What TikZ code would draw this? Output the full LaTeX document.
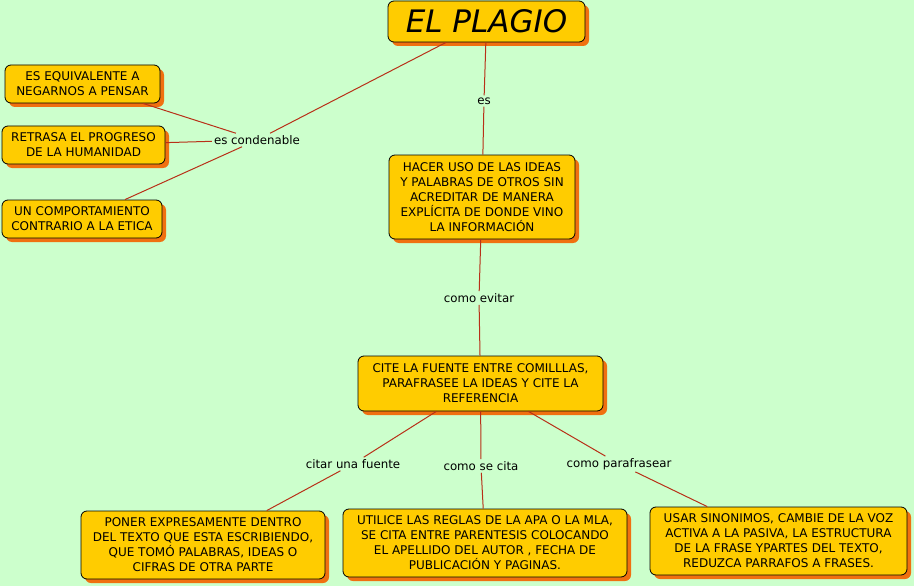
\documentclass[tikz,border=0pt]{standalone}
\usepackage{fontspec}
\setmainfont{DejaVu Sans}
\usetikzlibrary{shadows}
\definecolor{mapbg}{RGB}{204,255,204}
\definecolor{boxfill}{RGB}{255,204,0}
\definecolor{boxshadow}{RGB}{240,112,16}
\definecolor{linkred}{RGB}{184,48,24}
\begin{document}
\begin{tikzpicture}[x=1pt, y=-1pt,
	concept/.style={draw=black, line width=0.8pt, fill=boxfill, rounded corners=6pt,
		align=center, inner sep=0pt, font=\fontsize{12}{15}\selectfont,
		general shadow={fill=boxshadow, shadow xshift=4pt, shadow yshift=-4pt}},
	phrase/.style={inner sep=2pt, font=\fontsize{11.8}{14}\selectfont},
	link/.style={draw=linkred, line width=1pt}]
	\useasboundingbox[fill=mapbg] (0,0) rectangle (914,586);

	\node[concept, minimum width=197pt, minimum height=41pt, font=\fontsize{31}{36}\itshape] at (486.5,21.5)(title){EL PLAGIO};

	\node[concept, minimum width=155pt, minimum height=38pt] at (82.5,84)(eq){ES EQUIVALENTE A\\NEGARNOS A PENSAR};
	\node[concept, minimum width=163pt, minimum height=38pt] at (83.5,145)(ret){RETRASA EL PROGRESO\\DE LA HUMANIDAD};
	\node[concept, minimum width=160pt, minimum height=38pt] at (82,219)(comp){UN COMPORTAMIENTO\\CONTRARIO A LA ETICA};
	\node[phrase] at (257,140)(cond){es condenable};

	\node[phrase] at (484,101)(es){es};
	\node[concept, minimum width=186pt, minimum height=84pt] at (482,197)(hacer){HACER USO DE LAS IDEAS\\Y PALABRAS DE OTROS SIN\\ACREDITAR DE MANERA\\EXPLÍCITA DE DONDE VINO\\LA INFORMACIÓN};

	\node[phrase] at (479,298)(evitar){como evitar};
	\node[concept, minimum width=245pt, minimum height=55pt] at (480.5,383.5)(cite){CITE LA FUENTE ENTRE COMILLLAS,\\PARAFRASEE LA IDEAS Y CITE LA\\REFERENCIA};

	\node[phrase] at (353,464)(citar){citar una fuente};
	\node[phrase] at (481,466)(secita){como se cita};
	\node[phrase] at (619,464)(paraf){como parafrasear};

	\node[concept, minimum width=244pt, minimum height=68pt] at (203,545)(poner){PONER EXPRESAMENTE DENTRO\\DEL TEXTO QUE ESTA ESCRIBIENDO,\\QUE TOMÓ PALABRAS, IDEAS O\\CIFRAS DE OTRA PARTE};
	\node[concept, minimum width=284pt, minimum height=68pt] at (485,543)(utilice){UTILICE LAS REGLAS DE LA APA O LA MLA,\\SE CITA ENTRE PARENTESIS COLOCANDO\\EL APELLIDO DEL AUTOR , FECHA DE\\PUBLICACIÓN Y PAGINAS.};
	\node[concept, minimum width=257pt, minimum height=68pt] at (778.5,541)(usar){USAR SINONIMOS, CAMBIE DE LA VOZ\\ACTIVA A LA PASIVA, LA ESTRUCTURA\\DE LA FRASE YPARTES DEL TEXTO,\\REDUZCA PARRAFOS A FRASES.};

	\path[link] (title) edge (cond) (cond) edge (eq) (cond) edge (ret) (cond) edge (comp)
		(title) edge (es) (es) edge (hacer)
		(hacer) edge (evitar) (evitar) edge (cite)
		(cite) edge (citar) (citar) edge (poner)
		(cite) edge (secita) (secita) edge (utilice)
		(cite) edge (paraf) (paraf) edge (usar);
\end{tikzpicture}
\end{document}
